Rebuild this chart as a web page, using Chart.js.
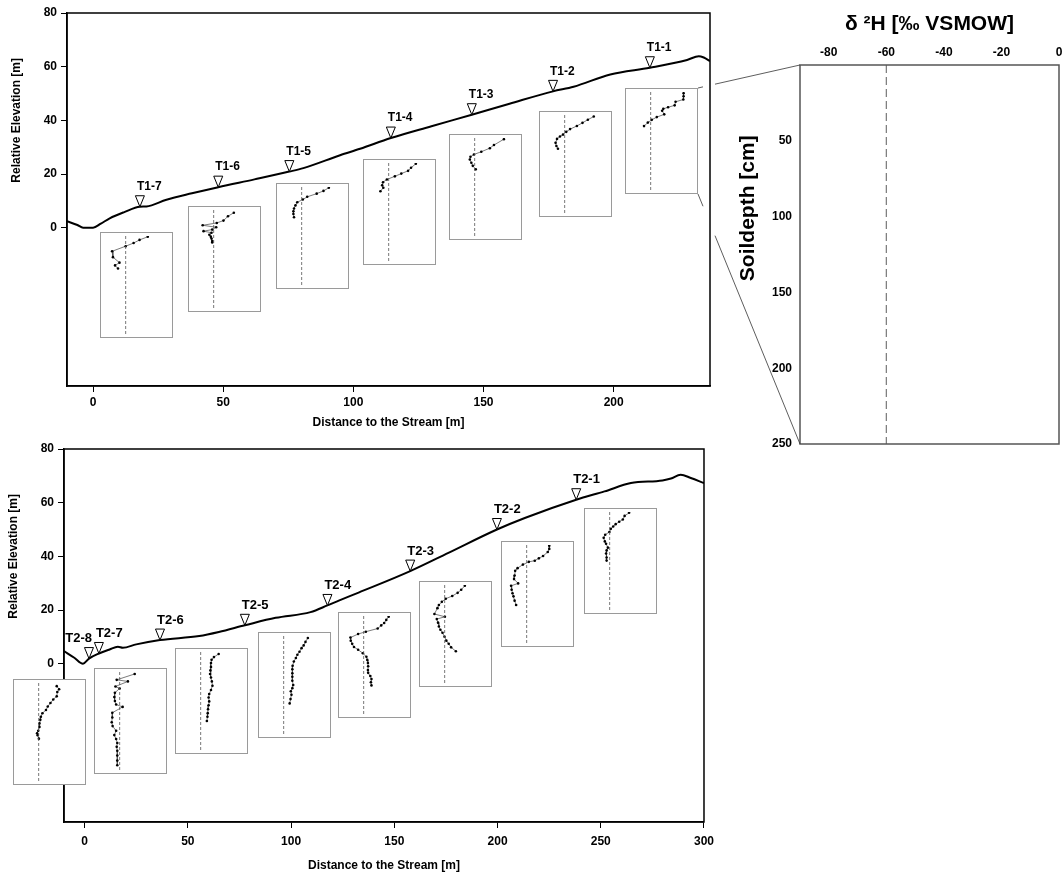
<!DOCTYPE html>
<html>
<head>
<meta charset="utf-8">
<script src="https://cdn.jsdelivr.net/npm/chart.js@4.4.1/dist/chart.umd.min.js"></script>
<style>
  html, body { margin: 0; padding: 0; background: #fff; overflow: hidden; }
  #wrap { position: relative; width: 1063px; height: 876px; overflow: hidden; }
  #wrap canvas { position: absolute; display: block; }
</style>
</head>
<body>
<div id="wrap">
  <canvas id="topChart" width="720" height="432" style="left:0;top:0"></canvas>
  <canvas id="bottomChart" width="720" height="444" style="left:0;top:432px"></canvas>
  <canvas id="keyChart" width="374" height="460" style="left:690px;top:0"></canvas>
</div>
<script>
// ---- data ----
const yTicks = [0, 20, 40, 60, 80];
const t1XTicks = [0, 50, 100, 150, 200];
const t2XTicks = [0, 50, 100, 150, 200, 250, 300];
const keyXTicks = [-80, -60, -40, -20, 0];
const keyYTicks = [50, 100, 150, 200, 250];
const refD2H = -60; // dashed reference line

// hillslope surface, transect 1
const t1SurfDist = [-10, -6, -3.8, 0, 3, 6.4, 12, 18, 20.5, 28.2, 38, 48.1, 62, 75.4, 80.8, 94.9, 102.6, 114.4, 130, 145.5, 160, 176.7, 184.6, 198.7, 213.9, 228.2, 232.7, 234.6, 237];
const t1SurfElev = [2.4, 1.0, 0, 0, 1.5, 3.5, 5.8, 7.8, 7.9, 10.4, 12.8, 15.1, 18.0, 20.9, 22.2, 27.0, 29.4, 33.4, 37.8, 42.1, 46.2, 50.8, 52.5, 57.1, 59.6, 62.5, 63.9, 63.4, 62.1];
// hillslope surface, transect 2
const t2SurfDist = [-10, -5, -0.8, 2.1, 6.9, 12.1, 16.1, 18.5, 25, 36.5, 55.5, 65, 77.6, 92.5, 109.4, 117.6, 123.1, 132.7, 157.7, 176.2, 199.7, 213.2, 238.1, 251.8, 264.6, 279.9, 284, 288.7, 293.6, 300];
const t2SurfElev = [4.7, 2.2, 0, 1.9, 3.8, 5.3, 6.3, 5.9, 7.2, 8.8, 10.3, 11.8, 14.3, 17.1, 19.2, 21.7, 23.5, 26.5, 34.5, 41.3, 50.0, 54.3, 61.1, 64.2, 67.3, 68.3, 69.0, 70.4, 69.2, 67.3];

// sampling sites
const t1Sites = ['T1-7', 'T1-6', 'T1-5', 'T1-4', 'T1-3', 'T1-2', 'T1-1'];
const t1SiteDist = [18.0, 48.1, 75.4, 114.4, 145.5, 176.7, 213.9];
const t1SiteElev = [7.8, 15.1, 20.9, 33.4, 42.1, 50.8, 59.6];
const t2Sites = ['T2-8', 'T2-7', 'T2-6', 'T2-5', 'T2-4', 'T2-3', 'T2-2', 'T2-1'];
const t2SiteDist = [2.1, 6.9, 36.5, 77.6, 117.6, 157.7, 199.7, 238.1];
const t2SiteElev = [1.9, 3.8, 8.8, 14.3, 21.7, 34.5, 50.0, 61.1];

// soil water profiles: [δ2H ‰, depth cm]
const profT1_7 = [[-29.4,2],[-40.8,10],[-49.0,18],[-60.0,26],[-78.8,39],[-77.6,54],[-68.6,68],[-74.7,75],[-70.6,83]];
const profT1_6 = [[-32.1,7],[-40.2,16],[-46.4,27],[-55.7,33],[-75.2,39],[-56.5,44],[-62.0,50],[-74.0,54],[-63.0,58],[-66.0,63],[-64.0,68],[-63.0,73],[-62.0,79],[-62.0,83]];
const profT1_5 = [[-22.4,2],[-29.8,10],[-39.2,17],[-52.3,25],[-58.4,32],[-66.1,39],[-68.6,47],[-70.6,55],[-71.4,62],[-71.4,69],[-70.6,77]];
const profT1_4 = [[-22.4,2],[-29.0,12],[-33.1,20],[-42.5,27],[-51.4,34],[-62.5,42],[-67.8,49],[-69.0,57],[-67.4,63],[-71.4,72]];
const profT1_3 = [[-19.5,3],[-33.3,18],[-39.0,26],[-50.8,35],[-61.0,42],[-65.8,48],[-66.7,55],[-64.6,63],[-62.6,71],[-58.5,80]];
const profT1_2 = [[-19.7,4],[-27.9,12],[-35.3,20],[-43.1,28],[-52.5,36],[-57.8,43],[-62.3,50],[-66.5,55],[-70.6,61],[-72.6,71],[-71.4,79],[-69.3,86]];
const profT1_1 = [[-14.4,3],[-14.4,11],[-14.8,19],[-25.5,25],[-26.8,34],[-35.9,39],[-42.5,43],[-44.1,48],[-41.2,57],[-51.5,64],[-58.5,71],[-63.9,78],[-69.2,87]];

const profT2_8 = [[-35.0,8],[-31.7,16],[-34.2,23],[-35.0,34],[-39.8,42],[-43.7,51],[-47.4,60],[-49.9,69],[-54.8,77],[-56.9,86],[-57.7,94],[-58.9,103],[-58.9,112],[-60.6,122],[-62.2,128],[-61.4,133],[-59.7,142]];
const profT2_7 = [[-39.2,5],[-64.1,20],[-48.6,24],[-65.8,37],[-60.0,42],[-66.6,53],[-67.4,64],[-66.6,74],[-64.9,83],[-55.9,89],[-70.2,104],[-70.2,116],[-71.0,128],[-69.8,138],[-64.9,150],[-67.4,161],[-64.9,171],[-63.3,181],[-64.1,191],[-63.3,201],[-63.3,213],[-63.3,226],[-63.3,238]];
const profT2_6 = [[-35.1,5],[-41.6,13],[-44.9,20],[-45.7,28],[-45.7,38],[-46.5,47],[-47.0,56],[-45.7,65],[-44.5,75],[-43.7,86],[-45.7,97],[-48.2,107],[-49.0,116],[-48.2,126],[-49.0,136],[-49.8,146],[-50.2,156],[-50.6,165],[-51.4,176]];
const profT2_5 = [[-26.5,5],[-29.8,15],[-32.3,24],[-35.2,31],[-38.1,40],[-41.0,48],[-43.1,56],[-45.9,65],[-47.6,76],[-48.0,85],[-48.0,95],[-48.0,104],[-48.0,114],[-46.8,125],[-48.0,133],[-50.1,141],[-49.2,150],[-50.5,161],[-51.7,172]];
const profT2_4 = [[-25.4,2],[-28.7,10],[-31.6,18],[-35.7,24],[-40.6,32],[-57.0,40],[-67.7,46],[-78.3,55],[-77.9,63],[-75.9,71],[-73.4,79],[-67.7,86],[-61.1,95],[-56.2,104],[-55.0,112],[-54.1,120],[-53.8,128],[-54.1,138],[-53.8,145],[-50.8,153],[-49.2,161],[-50.0,169],[-49.2,177]];
const profT2_3 = [[-32.1,2],[-37.1,12],[-42.0,20],[-49.5,28],[-58.5,35],[-63.9,43],[-68.0,51],[-70.0,59],[-74.2,74],[-59.7,81],[-70.9,87],[-69.2,96],[-68.0,106],[-65.9,114],[-63.0,122],[-60.2,132],[-57.7,142],[-54.4,150],[-51.1,159],[-44.5,169]];
const profT2_2 = [[-28.7,2],[-28.7,10],[-30.8,18],[-37.3,28],[-43.1,34],[-48.8,40],[-57.0,43],[-65.2,50],[-72.6,59],[-75.9,66],[-76.7,78],[-77.5,87],[-71.8,98],[-81.6,104],[-80.8,114],[-79.6,123],[-78.3,131],[-76.7,142],[-74.6,153]];
const profT2_1 = [[-33.1,2],[-39.3,10],[-41.8,19],[-46.8,25],[-51.7,31],[-55.1,37],[-58.4,43],[-60.4,51],[-66.2,58],[-68.3,66],[-66.7,75],[-65.0,81],[-62.5,91],[-64.2,98],[-65.0,106],[-64.2,116],[-64.2,124]];

const t1Profiles = [profT1_7, profT1_6, profT1_5, profT1_4, profT1_3, profT1_2, profT1_1];
const t2Profiles = [profT2_8, profT2_7, profT2_6, profT2_5, profT2_4, profT2_3, profT2_2, profT2_1];

// ---- layout: where each profile box hangs (top-left corner, panel data units) ----
const t1BoxAnchor = [[2.8,-1.5],[36.3,8.1],[70.3,16.6],[103.7,25.6],[136.9,34.8],[171.3,43.5],[204.4,52.0]];
const t2BoxAnchor = [[-34.7,-5.6],[4.5,-1.5],[43.9,5.8],[84.1,11.9],[122.7,19.1],[162.0,30.9],[201.9,45.8],[241.8,58.0]];
const t1LabelSide = ['left','left','left','left','left','left','left'];
const t2LabelSide = ['right','left','left','left','left','left','left','left'];
const BOX_W = 73, BOX_H = 106;

const el = (id) => document.getElementById(id);
const FONT = '"Liberation Sans", Arial, Helvetica, sans-serif';
Chart.defaults.font.family = FONT;
Chart.defaults.font.weight = 'bold';
Chart.defaults.font.size = 12;
Chart.defaults.color = '#000';

const frame = {
  id: 'frame',
  afterDraw(chart) {
    const { ctx, chartArea: a } = chart;
    ctx.save();
    ctx.strokeStyle = '#000';
    ctx.lineWidth = 1.5;
    ctx.strokeRect(a.left, a.top, a.right - a.left, a.bottom - a.top);
    ctx.restore();
  }
};

// y title centred on the 0..80 part of the axis, as in the original figure
const elevTitle = {
  id: 'elevTitle',
  afterDraw(chart) {
    const { ctx, chartArea: a } = chart;
    const y = chart.scales.y;
    ctx.save();
    ctx.fillStyle = '#000';
    ctx.font = `bold 12px ${FONT}`;
    ctx.textAlign = 'center';
    ctx.textBaseline = 'middle';
    ctx.translate(a.left - 50, (y.getPixelForValue(0) + y.getPixelForValue(80)) / 2);
    ctx.rotate(-Math.PI / 2);
    ctx.fillText('Relative Elevation [m]', 0, 0);
    ctx.restore();
  }
};

// open triangles + site names, placed at the site points of dataset 1
const siteMarks = {
  id: 'siteMarks',
  afterDatasetsDraw(chart, args, opts) {
    const { ctx } = chart;
    const meta = chart.getDatasetMeta(1);
    ctx.save();
    ctx.font = `bold ${opts.size}px ${FONT}`;
    ctx.textBaseline = 'middle';
    meta.data.forEach((pt, i) => {
      const x = pt.x, y = pt.y;
      ctx.beginPath();
      ctx.moveTo(x, y);
      ctx.lineTo(x - 4.5, y - 11);
      ctx.lineTo(x + 4.5, y - 11);
      ctx.closePath();
      ctx.fillStyle = '#fff';
      ctx.fill();
      ctx.strokeStyle = '#000';
      ctx.lineWidth = 1;
      ctx.stroke();
      ctx.fillStyle = '#000';
      const right = opts.sides[i] === 'right';
      ctx.textAlign = right ? 'right' : 'left';
      ctx.fillText(opts.names[i], right ? x + 3 : x - 3, y - 20);
    });
    ctx.restore();
  }
};

function panelChart(id, cfg) {
  const surface = cfg.surfDist.map((x, i) => ({ x, y: cfg.surfElev[i] }));
  const sites = cfg.siteDist.map((x, i) => ({ x, y: cfg.siteElev[i] }));
  return new Chart(el(id), {
    type: 'scatter',
    data: {
      datasets: [
        { data: surface, showLine: true, borderColor: '#000', borderWidth: 2, pointRadius: 0, cubicInterpolationMode: 'monotone' },
        { data: sites, pointRadius: 0 }
      ]
    },
    options: {
      responsive: false,
      animation: false,
      events: [],
      layout: { padding: cfg.pad },
      plugins: {
        legend: { display: false },
        tooltip: { enabled: false },
        siteMarks: { names: cfg.names, sides: cfg.sides, size: cfg.labelSize }
      },
      scales: {
        x: {
          type: 'linear', min: cfg.xMin, max: cfg.xMax,
          afterBuildTicks: (s) => { s.ticks = cfg.xTicks.map(v => ({ value: v })); },
          afterFit: (s) => { s.height = cfg.xHeight; },
          grid: { drawOnChartArea: false, drawTicks: true, tickLength: 6, color: '#000' },
          border: { color: '#000', width: 1.5 },
          ticks: { padding: cfg.tickPad, maxRotation: 0, autoSkip: false, font: { size: 12, weight: 'bold' } },
          title: { display: true, text: 'Distance to the Stream [m]', font: { size: 12, weight: 'bold' }, padding: { top: 0, bottom: cfg.titlePad } }
        },
        y: {
          type: 'linear', min: -59, max: 80,
          afterBuildTicks: (s) => { s.ticks = yTicks.map(v => ({ value: v })); },
          afterFit: (s) => { s.width = cfg.yWidth; },
          grid: { drawOnChartArea: false, drawTicks: true, tickLength: 6, color: '#000' },
          border: { color: '#000', width: 1.5 },
          ticks: { padding: 4, font: { size: 12, weight: 'bold' } }
        }
      }
    },
    plugins: [frame, siteMarks, elevTitle]
  });
}

const topChart = panelChart('topChart', {
  surfDist: t1SurfDist, surfElev: t1SurfElev, siteDist: t1SiteDist, siteElev: t1SiteElev,
  names: t1Sites, sides: t1LabelSide, labelSize: 12,
  xMin: -10, xMax: 237, xTicks: t1XTicks,
  pad: { top: 13, right: 10, bottom: 0, left: 0 }, xHeight: 46, yWidth: 67, tickPad: 3, titlePad: 2
});

const bottomChart = panelChart('bottomChart', {
  surfDist: t2SurfDist, surfElev: t2SurfElev, siteDist: t2SiteDist, siteElev: t2SiteElev,
  names: t2Sites, sides: t2LabelSide, labelSize: 13,
  xMin: -10, xMax: 300, xTicks: t2XTicks,
  pad: { top: 17, right: 12, bottom: 0, left: 0 }, xHeight: 54, yWidth: 64, tickPad: 6, titlePad: 3
});

// ---- small soil profile boxes ----
const insetBox = {
  id: 'insetBox',
  beforeDraw(chart) {
    const { ctx, width, height } = chart;
    ctx.save();
    ctx.fillStyle = '#fff';
    ctx.fillRect(0, 0, width, height);
    ctx.restore();
  },
  afterDraw(chart) {
    const { ctx, width, height } = chart;
    ctx.save();
    ctx.strokeStyle = '#9a9a9a';
    ctx.lineWidth = 1;
    ctx.strokeRect(0.5, 0.5, width - 1, height - 1);
    ctx.restore();
  }
};

const wrap = el('wrap');
function addInset(panel, panelTop, anchor, prof) {
  const left = Math.round(panel.scales.x.getPixelForValue(anchor[0]));
  const top = Math.round(panel.scales.y.getPixelForValue(anchor[1]) + panelTop);
  const c = document.createElement('canvas');
  c.width = BOX_W;
  c.height = BOX_H;
  c.style.left = left + 'px';
  c.style.top = top + 'px';
  wrap.appendChild(c);
  new Chart(c, {
    type: 'scatter',
    data: {
      datasets: [
        { data: [{ x: refD2H, y: 0 }, { x: refD2H, y: 250 }], showLine: true, borderColor: '#555', borderWidth: 0.8, borderDash: [3, 2], pointRadius: 0 },
        { data: prof.map(p => ({ x: p[0], y: p[1] })), showLine: true, borderColor: '#444', borderWidth: 0.7, pointRadius: 1.3, pointBorderWidth: 0, pointBackgroundColor: '#000' }
      ]
    },
    options: {
      responsive: false, animation: false, events: [],
      layout: { padding: 0 },
      plugins: { legend: { display: false }, tooltip: { enabled: false } },
      scales: {
        x: { type: 'linear', min: -90, max: 0, display: false },
        y: { type: 'linear', min: 0, max: 250, reverse: true, display: false }
      }
    },
    plugins: [insetBox]
  });
  return { left, top, right: left + BOX_W, bottom: top + BOX_H };
}

const t1Boxes = t1Profiles.map((p, i) => addInset(topChart, 0, t1BoxAnchor[i], p));
t2Profiles.forEach((p, i) => addInset(bottomChart, 432, t2BoxAnchor[i], p));

// ---- enlarged key box on the right ----
const KEY_LEFT = 690;
const zoomBox = t1Boxes[t1Boxes.length - 1];
const gapL = topChart.chartArea.right - 7, gapR = topChart.chartArea.right + 5;

const keyDecor = {
  id: 'keyDecor',
  afterDraw(chart) {
    const { ctx, chartArea: a } = chart;
    ctx.save();
    ctx.strokeStyle = '#555';
    ctx.lineWidth = 1.5;
    ctx.strokeRect(a.left, a.top, a.right - a.left, a.bottom - a.top);

    // rotated depth title
    ctx.fillStyle = '#000';
    ctx.font = `bold 21px ${FONT}`;
    ctx.textAlign = 'center';
    ctx.textBaseline = 'middle';
    ctx.translate(a.left - 52, a.top + 0.378 * (a.bottom - a.top));
    ctx.rotate(-Math.PI / 2);
    ctx.fillText('Soildepth [cm]', 0, 0);
    ctx.restore();

    // lines linking the T1-1 box to the key
    ctx.save();
    ctx.strokeStyle = '#333';
    ctx.lineWidth = 0.8;
    const link = (x0, y0, x1, y1) => {
      const at = (x) => y0 + (y1 - y0) * (x - x0) / (x1 - x0);
      ctx.beginPath();
      ctx.moveTo(x0 - KEY_LEFT, y0);
      ctx.lineTo(gapL - KEY_LEFT, at(gapL));
      ctx.moveTo(gapR - KEY_LEFT, at(gapR));
      ctx.lineTo(x1 - KEY_LEFT, y1);
      ctx.stroke();
    };
    link(zoomBox.right, zoomBox.top, a.left + KEY_LEFT, a.top);
    link(zoomBox.right, zoomBox.bottom, a.left + KEY_LEFT, a.bottom);
    ctx.restore();
  }
};

new Chart(el('keyChart'), {
  type: 'scatter',
  data: {
    datasets: [
      { data: [{ x: refD2H, y: 0 }, { x: refD2H, y: 250 }], showLine: true, borderColor: '#777', borderWidth: 1.2, borderDash: [8, 4], pointRadius: 0 }
    ]
  },
  options: {
    responsive: false, animation: false, events: [],
    layout: { padding: { top: 0, right: 5, bottom: 16, left: 0 } },
    plugins: { legend: { display: false }, tooltip: { enabled: false } },
    scales: {
      x: {
        type: 'linear', position: 'top', min: -90, max: 0,
        afterBuildTicks: (s) => { s.ticks = keyXTicks.map(v => ({ value: v })); },
        afterFit: (s) => { s.height = 65; },
        grid: { display: false },
        border: { display: false },
        ticks: { padding: -3, maxRotation: 0, autoSkip: false, font: { size: 12, weight: 'bold' } },
        title: { display: true, text: 'δ ²H [‰ VSMOW]', font: { size: 21, weight: 'bold' }, padding: { top: 12, bottom: 0 } }
      },
      y: {
        type: 'linear', min: 0, max: 250, reverse: true,
        afterBuildTicks: (s) => { s.ticks = keyYTicks.map(v => ({ value: v })); },
        afterFit: (s) => { s.width = 110; },
        grid: { display: false },
        border: { display: false },
        ticks: { padding: 0, font: { size: 12, weight: 'bold' } }
      }
    }
  },
  plugins: [keyDecor]
});
</script>
</body>
</html>
